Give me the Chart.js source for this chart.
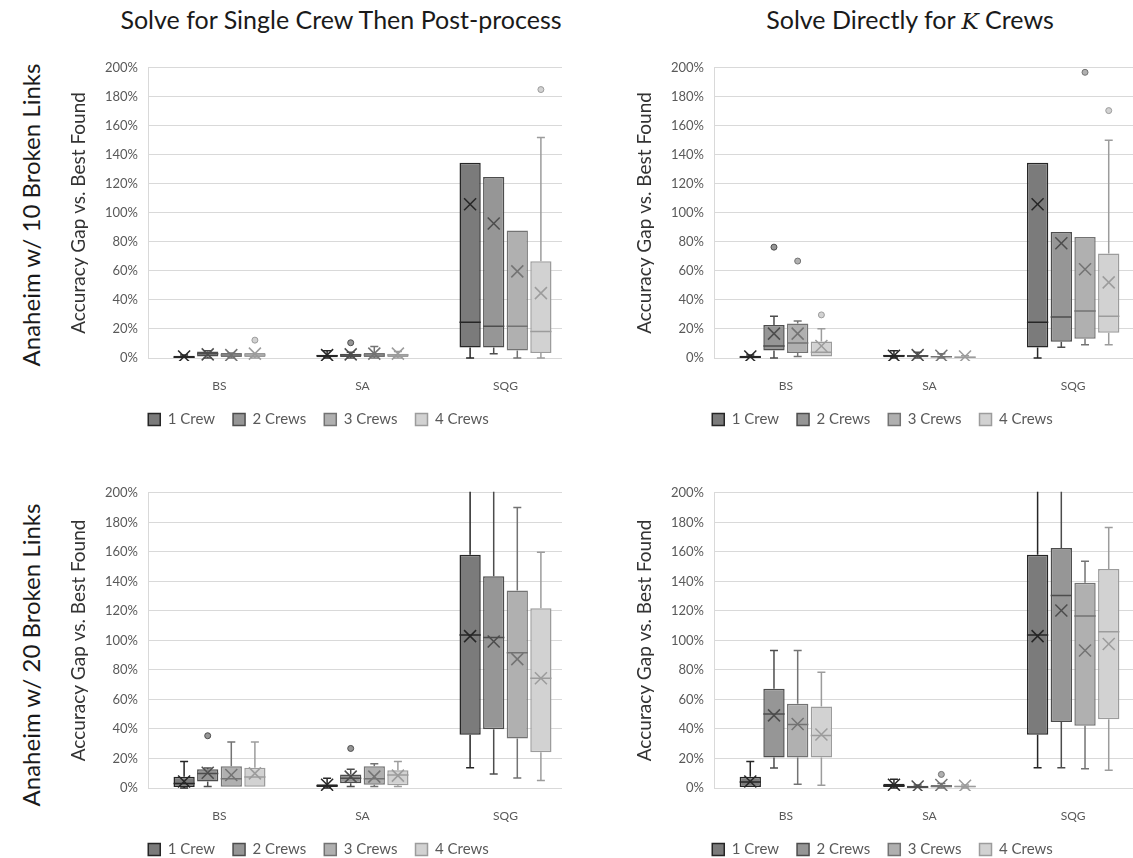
<!DOCTYPE html>
<html>
<head>
<meta charset="utf-8">
<script src="https://cdn.jsdelivr.net/npm/chart.js@4.4.1/dist/chart.umd.min.js"></script>
<style>
  body { margin: 0; width: 1133px; height: 858px; overflow: hidden; background: #fff; font-family: Lato, sans-serif; position: relative; }
  .panel { position: absolute; overflow: hidden; }
  .title { position: absolute; top: 4px; font-size: 25px; color: #1a1a1a; white-space: nowrap; transform: translateX(-50%); }
  .row { position: absolute; font-size: 24px; color: #1a1a1a; white-space: nowrap; transform: translate(-50%, -50%) rotate(-90deg); }
</style>
</head>
<body>
<div class="title" style="left:341px">Solve for Single Crew Then Post-process</div>
<div class="title" style="left:910px">Solve Directly for <i style="font-family:'DejaVu Serif',serif;font-size:23px">K</i> Crews</div>
<div class="row" style="left:30px;top:215px">Anaheim w/ 10 Broken Links</div>
<div class="row" style="left:30px;top:655px">Anaheim w/ 20 Broken Links</div>

<div class="panel" style="left:60px;top:50px;width:502px;height:391px"><canvas id="tl" width="517" height="391"></canvas></div>
<div class="panel" style="left:620px;top:50px;width:513px;height:391px"><canvas id="tr" width="525" height="391"></canvas></div>
<div class="panel" style="left:60px;top:475px;width:502px;height:383px"><canvas id="bl" width="517" height="396"></canvas></div>
<div class="panel" style="left:620px;top:475px;width:513px;height:383px"><canvas id="br" width="525" height="396"></canvas></div>

<script>
const categories = ['BS', 'SA', 'SQG'];
const crews = ['1 Crew', '2 Crews', '3 Crews', '4 Crews'];
const fills = ['#7b7b7b', '#969696', '#b0b0b0', '#d2d2d2'];
const edges = ['#262626', '#4d4d4d', '#737373', '#9c9c9c'];

// rows = crews, columns = BS, SA, SQG (values in %)
// single crew then post-process, 10 broken links
const single10Min    = [[0, 0, 0], [0, 0, 2.9], [0, 0, 0], [0, 0, 0]];
const single10Q1     = [[0, 0.5, 7.2], [1, 0.7, 7.2], [0.7, 0.7, 5.1], [0.7, 0.7, 3.4]];
const single10Median = [[0.5, 1.5, 24.6], [3, 2, 21.9], [2, 2, 21.9], [2, 2, 18.3]];
const single10Q3     = [[1.5, 2.2, 134.5], [4.5, 3, 124.7], [3.4, 3.5, 87.8], [3.5, 3, 66.6]];
const single10Max    = [[2, 5, 134.5], [5, 4, 124.7], [3.5, 8, 87.8], [3.5, 4.5, 152]];
const single10Mean   = [[1, 2, 106], [2.5, 2.5, 92.7], [2, 3, 59.7], [3, 3, 44.7]];
const single10Out    = [[1, 1, 10.5], [3, 0, 12.3], [3, 2, 185]];

// solve directly for K crews, 10 broken links
const direct10Min    = [[0, 0, 0], [0, 0, 7.4], [1, 0, 9.2], [1, 0, 9.2]];
const direct10Q1     = [[0, 0.5, 7.2], [5.1, 0.5, 11.2], [3.4, 0.5, 13.2], [1, 0, 17.4]];
const direct10Median = [[0.5, 1.5, 24.6], [8.3, 1.5, 28.2], [10.3, 0.8, 32.4], [4, 0.5, 28.8]];
const direct10Q3     = [[1.5, 2.2, 134.5], [22.8, 2, 86.9], [23.7, 1, 83.4], [11.4, 1, 72]];
const direct10Max    = [[2, 5, 134.5], [28.8, 4, 86.9], [25.5, 3, 83.4], [20.1, 1.5, 150]];
const direct10Mean   = [[1, 1.5, 106], [16.8, 2, 79.1], [16.8, 1.5, 61.2], [8.3, 1, 52.1]];
const direct10Out    = [[1, 0, 76.4], [2, 0, 66.8], [2, 2, 196.9], [3, 0, 29.7], [3, 2, 170.5]];

// single crew then post-process, 20 broken links
const single20Min    = [[0, 0, 13.8], [1.1, 1.1, 9.5], [0.9, 1.1, 6.8], [0.9, 1.1, 5.1]];
const single20Q1     = [[0.7, 0.7, 36], [4.4, 3.3, 39.8], [0.9, 2.2, 33.6], [0.9, 1.8, 24.2]];
const single20Median = [[3, 1.5, 103.7], [9.9, 6.6, 102], [6.2, 6.2, 91.6], [7.5, 8.8, 74.3]];
const single20Q3     = [[7.7, 2.6, 158], [12.7, 9.2, 143.5], [14.7, 14.7, 133.8], [13.8, 12.1, 121.8]];
const single20Max    = [[18, 6.6, 230], [13.6, 12.7, 230], [31.2, 16.5, 190], [31.2, 18, 159.8]];
const single20Mean   = [[4.4, 2.2, 102.9], [10.3, 7.7, 99.3], [8.8, 7.7, 87.3], [9.9, 8.4, 74.3]];
const single20Out    = [[1, 0, 35.4], [1, 1, 26.8]];

// solve directly for K crews, 20 broken links
const direct20Min    = [[0.7, 0, 13.8], [13.6, 0, 13.8], [2.6, 0, 13], [1.8, 0, 12.1]];
const direct20Q1     = [[0.7, 0.7, 36], [20.7, 0, 44.8], [20.7, 0.5, 42.2], [20.7, 0.5, 46.6]];
const direct20Median = [[4, 1.5, 103.7], [50.1, 0.5, 130.5], [43.1, 1, 116.5], [35.6, 1, 105.9]];
const direct20Q3     = [[7.7, 2.9, 158], [67.3, 1.5, 162.6], [57, 2, 139.1], [55.2, 1.5, 148.4]];
const direct20Max    = [[18, 5.9, 230], [93.2, 2, 230], [93.2, 3, 153.6], [78.5, 2, 176.5]];
const direct20Mean   = [[4.4, 2.2, 102.9], [49.2, 1, 120.2], [43.3, 2, 93.2], [36.3, 1.5, 97.6]];
const direct20Out    = [[2, 1, 9.2]];

// whiskers, medians, means and outliers on top of the floating bars
const boxExtras = {
    id: 'boxExtras',
    afterDatasetsDraw(chart) {
        const ctx = chart.ctx;
        const y = chart.scales.y;
        const area = chart.chartArea;
        ctx.save();
        ctx.beginPath();
        ctx.rect(area.left, area.top - 1, area.right - area.left, area.bottom - area.top + 4);
        ctx.clip();
        chart.data.datasets.forEach((ds, i) => {
            const meta = chart.getDatasetMeta(i);
            ctx.strokeStyle = ds.borderColor;
            ctx.lineWidth = 1.5;
            meta.data.forEach((bar, j) => {
                const x = bar.x;
                const half = bar.width / 2;
                const st = ds.stats;
                const line = (x1, y1, x2, y2) => {
                    ctx.beginPath(); ctx.moveTo(x1, y1); ctx.lineTo(x2, y2); ctx.stroke();
                };
                const yMin = y.getPixelForValue(st.min[j]);
                const yQ1 = y.getPixelForValue(st.q1[j]);
                const yQ3 = y.getPixelForValue(st.q3[j]);
                const yMax = y.getPixelForValue(st.max[j]);
                const yMed = y.getPixelForValue(st.median[j]);
                const yMean = y.getPixelForValue(st.mean[j]);
                if (st.max[j] > st.q3[j]) {
                    line(x, yQ3, x, yMax);
                    line(x - 4, yMax, x + 4, yMax);
                }
                if (st.min[j] < st.q1[j]) {
                    line(x, yQ1, x, yMin);
                    line(x - 4, yMin, x + 4, yMin);
                }
                line(x - half, yMed, x + half, yMed);
                const m = 6;
                line(x - m, yMean - m, x + m, yMean + m);
                line(x - m, yMean + m, x + m, yMean - m);
            });
            ds.outliers.forEach(o => {
                const bar = meta.data[o[0]];
                ctx.beginPath();
                ctx.arc(bar.x, y.getPixelForValue(o[1]), 3, 0, Math.PI * 2);
                ctx.fillStyle = ds.backgroundColor;
                ctx.fill();
                ctx.lineWidth = 1;
                ctx.stroke();
            });
        });
        ctx.restore();
    }
};

function buildChart(id, yAxisWidth, titlePad, mins, q1s, medians, q3s, maxs, means, outliers) {
    const datasets = crews.map((label, i) => ({
        label: label,
        data: categories.map((c, j) => [q1s[i][j], q3s[i][j]]),
        backgroundColor: fills[i],
        borderColor: edges[i],
        borderWidth: 1.5,
        borderSkipped: false,
        categoryPercentage: 0.66,
        barPercentage: 0.9,
        stats: { min: mins[i], q1: q1s[i], median: medians[i], q3: q3s[i], max: maxs[i], mean: means[i] },
        outliers: outliers.filter(o => o[0] === i).map(o => [o[1], o[2]])
    }));

    return new Chart(document.getElementById(id), {
        type: 'bar',
        data: { labels: categories, datasets: datasets },
        plugins: [boxExtras],
        options: {
            responsive: false,
            animation: false,
            layout: { padding: { top: 10, right: 0, bottom: 4, left: 0 } },
            plugins: {
                tooltip: { enabled: false },
                legend: {
                    position: 'bottom',
                    labels: { boxWidth: 12, boxHeight: 12, padding: 18, color: '#595959', font: { family: 'Lato', size: 15 } }
                }
            },
            scales: {
                x: {
                    grid: { display: false },
                    border: { display: false },
                    ticks: { color: '#595959', padding: 13, font: { family: 'Lato', size: 12 } },
                    afterFit: s => { s.height = 36; }
                },
                y: {
                    min: 0,
                    max: 200,
                    grid: { color: '#d9d9d9', drawTicks: false },
                    border: { display: true, color: '#d9d9d9' },
                    ticks: { stepSize: 20, padding: 10, color: '#595959', font: { family: 'Lato', size: 13 }, callback: v => v + '%' },
                    title: { display: true, text: 'Accuracy Gap vs. Best Found', color: '#333333', padding: { top: titlePad, bottom: 0 }, font: { family: 'Lato', size: 19 } },
                    afterFit: s => { s.width = yAxisWidth; }
                }
            }
        }
    });
}

buildChart('tl', 88, 7, single10Min, single10Q1, single10Median, single10Q3, single10Max, single10Mean, single10Out);
buildChart('tr', 94, 13, direct10Min, direct10Q1, direct10Median, direct10Q3, direct10Max, direct10Mean, direct10Out);
buildChart('bl', 88, 7, single20Min, single20Q1, single20Median, single20Q3, single20Max, single20Mean, single20Out);
buildChart('br', 94, 13, direct20Min, direct20Q1, direct20Median, direct20Q3, direct20Max, direct20Mean, direct20Out);
</script>
</body>
</html>
